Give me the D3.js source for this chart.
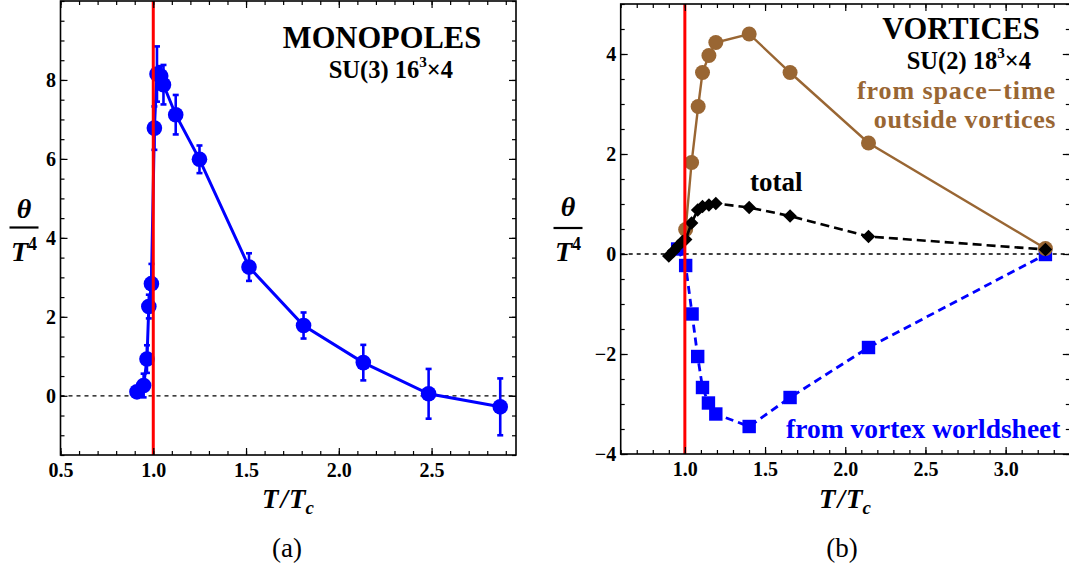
<!DOCTYPE html>
<html><head><meta charset="utf-8">
<script src="https://cdn.jsdelivr.net/npm/d3@7"></script>
<style>
body{margin:0;background:#fff}
svg{display:block}
text{font-family:"Liberation Serif","Times New Roman",serif;}
</style>
</head><body>
<svg id="c" width="1069" height="564"></svg>
<script>
// ---------- DATA ----------
// Panel (a): monopoles, SU(3) 16^3x4
const monoT     = [0.912, 0.948, 0.966, 0.976, 0.990, 1.006, 1.020, 1.040, 1.055, 1.121, 1.249, 1.516, 1.810, 2.132, 2.484, 2.870];
const monoTheta = [0.10, 0.26, 0.93, 2.26, 2.84, 6.78, 8.15, 8.10, 7.88, 7.12, 5.99, 3.26, 1.78, 0.84, 0.05, -0.28];
const monoErr   = [0.05, 0.30, 0.35, 0.30, 0.50, 0.55, 0.70, 0.25, 0.50, 0.50, 0.35, 0.35, 0.33, 0.45, 0.63, 0.72];
const aXTicks = [0.5, 1.0, 1.5, 2.0, 2.5];
const aYTicks = [0, 2, 4, 6, 8];

// Panel (b): vortices, SU(2) 18^3x4
const outT      = [1.005, 1.042, 1.083, 1.110, 1.150, 1.193, 1.401, 1.656, 2.145, 3.248];
const outTheta  = [0.49, 1.83, 2.95, 3.63, 3.97, 4.23, 4.40, 3.63, 2.22, 0.11];
const totT      = [0.900, 0.930, 0.958, 0.985, 1.005, 1.042, 1.080, 1.110, 1.150, 1.193, 1.401, 1.656, 2.145, 3.248];
const totTheta  = [-0.04, 0.06, 0.16, 0.25, 0.29, 0.62, 0.88, 0.95, 0.98, 1.01, 0.93, 0.76, 0.35, 0.09];
const wsT       = [0.955, 1.005, 1.045, 1.080, 1.110, 1.147, 1.193, 1.401, 1.656, 2.145, 3.248];
const wsTheta   = [0.10, -0.23, -1.20, -2.05, -2.67, -2.98, -3.20, -3.45, -2.87, -1.87, -0.01];
const bXTicks = [1.0, 1.5, 2.0, 2.5, 3.0];
const bYTicks = [-4, -2, 0, 2, 4];
const Tc = 1.0;

// ---------- SETUP ----------
const svg = d3.select("#c");
svg.append("rect").attr("width",1069).attr("height",564).attr("fill","#fff");
const BLUE="#0000ff", BROWN="#996633", RED="#ff0000";
const SERIF='"Liberation Serif","Times New Roman",serif';

function minorVals(lo, hi, step){
  const out=[]; const n=Math.round((hi-lo)/step);
  for(let i=0;i<=n;i++){ out.push(+(lo+i*step).toFixed(6)); }
  return out;
}

function drawFrame(g, x, y, xMajor, yMajor, xStep, yStep){
  const [x0,x1]=x.range(), [y0,y1]=y.range();
  const xd=x.domain(), yd=y.domain();
  const xMin=minorVals(Math.ceil(xd[0]/xStep-1e-6)*xStep, xd[1], xStep).filter(v=>v<=xd[1]+1e-9);
  const yMin=minorVals(Math.ceil(yd[0]/yStep-1e-6)*yStep, yd[1], yStep).filter(v=>v<=yd[1]+1e-9);
  const fx=d3.format(".1f"), fy=d3.format("d");
  const style=a=>{a.attr("font-family",SERIF);a.select(".domain").remove();a.selectAll(".tick line").attr("stroke","#000").attr("stroke-width",1.2);};
  const lab=a=>a.selectAll(".tick text").attr("fill","#000").attr("font-size",20).attr("font-weight","bold");
  // minor
  g.append("g").attr("transform",`translate(0,${y0})`).call(d3.axisBottom(x).tickValues(xMin).tickSize(-4).tickFormat("")).call(style);
  g.append("g").attr("transform",`translate(0,${y1})`).call(d3.axisTop(x).tickValues(xMin).tickSize(-4).tickFormat("")).call(style);
  g.append("g").attr("transform",`translate(${x0},0)`).call(d3.axisLeft(y).tickValues(yMin).tickSize(-4).tickFormat("")).call(style);
  g.append("g").attr("transform",`translate(${x1},0)`).call(d3.axisRight(y).tickValues(yMin).tickSize(-4).tickFormat("")).call(style);
  // major
  g.append("g").attr("transform",`translate(0,${y0})`).call(d3.axisBottom(x).tickValues(xMajor).tickSize(-7).tickPadding(8).tickFormat(fx)).call(style).call(lab);
  g.append("g").attr("transform",`translate(0,${y1})`).call(d3.axisTop(x).tickValues(xMajor).tickSize(-7).tickFormat("")).call(style);
  g.append("g").attr("transform",`translate(${x0},0)`).call(d3.axisLeft(y).tickValues(yMajor).tickSize(-7).tickPadding(4.5).tickFormat(fy)).call(style).call(lab);
  g.append("g").attr("transform",`translate(${x1},0)`).call(d3.axisRight(y).tickValues(yMajor).tickSize(-7).tickFormat("")).call(style);
  // frame
  g.append("rect").attr("x",x0).attr("y",y1).attr("width",x1-x0).attr("height",y0-y1)
   .attr("fill","none").attr("stroke","#000").attr("stroke-width",1.6);
}

function yLabel(g, cx, yTheta, yLine, yT){
  g.append("text").attr("x",cx).attr("y",yTheta).attr("text-anchor","middle")
   .attr("font-size",28).attr("font-weight","bold").attr("font-style","italic").text("θ");
  g.append("line").attr("x1",cx-14.5).attr("x2",cx+14.5).attr("y1",yLine).attr("y2",yLine)
   .attr("stroke","#000").attr("stroke-width",2.2);
  g.append("text").attr("x",cx+4).attr("y",yT).attr("text-anchor","end")
   .attr("font-size",28).attr("font-weight","bold").attr("font-style","italic").text("T");
  g.append("text").attr("x",cx+4).attr("y",yT-11).attr("text-anchor","start")
   .attr("font-size",18).attr("font-weight","bold").text("4");
}
function xLabel(g, cx, y){
  const t=g.append("text").attr("x",cx).attr("y",y).attr("text-anchor","middle")
   .attr("font-size",27).attr("font-weight","bold").attr("font-style","italic");
  t.append("tspan").text("T");
  t.append("tspan").attr("dx",2).text("/");
  t.append("tspan").attr("dx",1).text("T");
  t.append("tspan").attr("font-size",19).attr("dy",6).text("c");
}
// title line with a superscript, drawn as separate text pieces, right-aligned at xEnd
function supText(g, xEnd, y, size, pre, sup, post){
  const tPost=g.append("text").attr("x",xEnd).attr("y",y).attr("text-anchor","end")
   .attr("font-size",size).attr("font-weight","bold").text(post);
  const wPost=tPost.node().getComputedTextLength();
  const tSup=g.append("text").attr("x",xEnd-wPost).attr("y",y-size*0.42).attr("text-anchor","end")
   .attr("font-size",size*0.62).attr("font-weight","bold").text(sup);
  const wSup=tSup.node().getComputedTextLength();
  g.append("text").attr("x",xEnd-wPost-wSup).attr("y",y).attr("text-anchor","end")
   .attr("font-size",size).attr("font-weight","bold").text(pre);
}

// ---------- PANEL (a) ----------
{
  const g=svg.append("g");
  const x=d3.scaleLinear().domain([0.5,2.955]).range([60.5,516]);
  const y=d3.scaleLinear().domain([-1.5,10]).range([455,1]);
  const data=monoT.map((t,i)=>({t, v:monoTheta[i], e:monoErr[i]}));

  g.append("line").attr("x1",x.range()[0]).attr("x2",x.range()[1]).attr("y1",y(0)).attr("y2",y(0))
   .attr("stroke","#000").attr("stroke-width",1.3).attr("stroke-dasharray","4,4");

  g.append("path").datum(data).attr("fill","none").attr("stroke",BLUE).attr("stroke-width",3)
   .attr("d",d3.line().x(d=>x(d.t)).y(d=>y(d.v)));
  const eb=g.append("g").attr("stroke",BLUE).attr("stroke-width",2.6);
  data.forEach(d=>{
    eb.append("line").attr("x1",x(d.t)).attr("x2",x(d.t)).attr("y1",y(d.v-d.e)).attr("y2",y(d.v+d.e));
    [d.v-d.e,d.v+d.e].forEach(v=>eb.append("line").attr("x1",x(d.t)-3).attr("x2",x(d.t)+3).attr("y1",y(v)).attr("y2",y(v)));
  });
  g.selectAll("circle.m").data(data).join("circle").attr("class","m")
   .attr("cx",d=>x(d.t)).attr("cy",d=>y(d.v)).attr("r",7.8).attr("fill",BLUE);

  g.append("line").attr("x1",x(Tc)).attr("x2",x(Tc)).attr("y1",y.range()[0]).attr("y2",y.range()[1])
   .attr("stroke",RED).attr("stroke-width",3);

  drawFrame(g,x,y,aXTicks,aYTicks,0.1,0.5);
  yLabel(g,24,218,227.5,261);
  xLabel(g,288,508);
  g.append("text").attr("x",382).attr("y",48).attr("text-anchor","middle").attr("font-size",30.5)
   .attr("font-weight","bold").text("MONOPOLES");
  supText(g,453,77.5,24.5,"SU(3) 16","3","×4");
  g.append("text").attr("x",287).attr("y",557).attr("text-anchor","middle").attr("font-size",27).text("(a)");
}

// ---------- PANEL (b) ----------
{
  const g=svg.append("g");
  const x=d3.scaleLinear().domain([0.6,3.4]).range([620.7,1069.8]);
  const y=d3.scaleLinear().domain([-4,5]).range([454,4]);
  const out=outT.map((t,i)=>({t,v:outTheta[i]}));
  const tot=totT.map((t,i)=>({t,v:totTheta[i]}));
  const ws=wsT.map((t,i)=>({t,v:wsTheta[i]}));
  const line=d3.line().x(d=>x(d.t)).y(d=>y(d.v));

  g.append("line").attr("x1",x.range()[0]).attr("x2",x.range()[1]).attr("y1",y(0)).attr("y2",y(0))
   .attr("stroke","#000").attr("stroke-width",1.3).attr("stroke-dasharray","4,4");

  // vortex worldsheet (blue squares, dashed)
  g.append("path").datum(ws).attr("fill","none").attr("stroke",BLUE).attr("stroke-width",2.8)
   .attr("stroke-dasharray","8,5").attr("d",line);
  g.selectAll("path.sq").data(ws).join("path").attr("class","sq")
   .attr("transform",d=>`translate(${x(d.t)},${y(d.v)})`)
   .attr("d",d3.symbol(d3.symbolSquare,180)()).attr("fill",BLUE);

  // outside vortices (brown circles, solid)
  g.append("path").datum(out).attr("fill","none").attr("stroke",BROWN).attr("stroke-width",2.4).attr("d",line);
  g.selectAll("circle.o").data(out).join("circle").attr("class","o")
   .attr("cx",d=>x(d.t)).attr("cy",d=>y(d.v)).attr("r",7.5).attr("fill",BROWN);

  // total (black diamonds, dashed)
  g.append("path").datum(tot).attr("fill","none").attr("stroke","#000").attr("stroke-width",2.6)
   .attr("stroke-dasharray","9,5").attr("d",line);
  g.selectAll("path.dm").data(tot).join("path").attr("class","dm")
   .attr("transform",d=>`translate(${x(d.t)},${y(d.v)})`)
   .attr("d","M0,-6.8L6.8,0L0,6.8L-6.8,0Z").attr("fill","#000");

  g.append("line").attr("x1",x(Tc)).attr("x2",x(Tc)).attr("y1",y.range()[0]).attr("y2",y.range()[1])
   .attr("stroke",RED).attr("stroke-width",3);

  drawFrame(g,x,y,bXTicks,bYTicks,0.1,0.5);
  yLabel(g,568,216,228,261);
  xLabel(g,845,508);
  g.append("text").attr("x",961).attr("y",39).attr("text-anchor","middle").attr("font-size",30.5)
   .attr("font-weight","bold").text("VORTICES");
  supText(g,1031,68.5,24.5,"SU(2) 18","3","×4");
  g.append("text").attr("x",1056).attr("y",99).attr("text-anchor","end").attr("font-size",26)
   .attr("letter-spacing",0.9).attr("font-weight","bold").attr("fill",BROWN).text("from space−time");
  g.append("text").attr("x",1056).attr("y",128).attr("text-anchor","end").attr("font-size",26)
   .attr("letter-spacing",0.6).attr("font-weight","bold").attr("fill",BROWN).text("outside vortices");
  g.append("text").attr("x",750).attr("y",191).attr("font-size",27)
   .attr("font-weight","bold").attr("fill","#000").text("total");
  g.append("text").attr("x",1060.5).attr("y",438).attr("text-anchor","end").attr("font-size",27.5)
   .attr("font-weight","bold").attr("fill",BLUE).text("from vortex worldsheet");
  g.append("text").attr("x",842).attr("y",557).attr("text-anchor","middle").attr("font-size",27).text("(b)");
}
</script>
</body></html>
